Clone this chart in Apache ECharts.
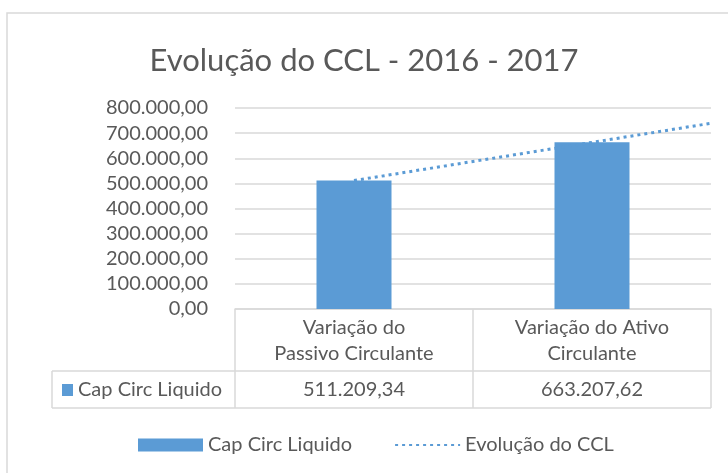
<!DOCTYPE html>
<html>
<head>
<meta charset="utf-8">
<script src="https://cdn.jsdelivr.net/npm/echarts@6/dist/echarts.min.js"></script>
<style>
html, body { margin: 0; padding: 0; background: #fff; }
#block1 { width: 728px; height: 473px; }
</style>
</head>
<body>
<div id="block1"></div>
<script>
// dados
var categorias = ['Variação do\nPassivo Circulante', 'Variação do Ativo\nCirculante'];
var capCircLiquido = [511209.34, 663207.62];
var nomeBarra = 'Cap Circ Liquido';
var nomeTendencia = 'Evolução do CCL';
var titulo = 'Evolução do CCL - 2016 - 2017';

var FONTE = 'Lato, "Open Sans", sans-serif';
var CINZA = '#595959';
var LINHA = '#D9D9D9';
var AZUL = '#5B9BD5';

function fmtBR(v) {
    var p = v.toFixed(2).split('.');
    return p[0].replace(/\B(?=(\d{3})+(?!\d))/g, '.') + ',' + p[1];
}

// linha de tendencia linear (como no excel), com previsao de 0,5 periodo
var n = capCircLiquido.length, sx = 0, sy = 0, sxy = 0, sxx = 0;
capCircLiquido.forEach(function (v, i) { sx += i; sy += v; sxy += i * v; sxx += i * i; });
var incl = (n * sxy - sx * sy) / (n * sxx - sx * sx);
var inter = (sy - incl * sx) / n;
var tendencia = [[0, inter], [n - 0.5, inter + incl * (n - 0.5)]];

// area do grafico
var gL = 235, gR = 711, gT = 108, gB = 309;
var linhaCab = 371, linhaVal = 408, colRot = 52;

var option1 = {
    animation: false,
    textStyle: { fontFamily: FONTE },
    title: {
        text: titulo, left: 'center', top: 40,
        textStyle: { color: CINZA, fontSize: 31, fontWeight: 'normal', fontFamily: FONTE }
    },
    grid: { left: gL, right: 728 - gR, top: gT, bottom: 473 - gB },
    legend: {
        left: 138, top: 435, padding: 0, itemWidth: 65, itemHeight: 13, itemGap: 42,
        textStyle: { color: CINZA, fontSize: 20, fontFamily: FONTE },
        data: [{ name: nomeBarra, icon: 'rect' }, { name: nomeTendencia, itemStyle: { opacity: 0 } }]
    },
    xAxis: [
        { type: 'category', data: categorias, axisLabel: { show: false }, axisTick: { show: false },
          axisLine: { lineStyle: { color: LINHA, width: 1.5 } } },
        { type: 'value', min: -0.5, max: n - 0.5, show: false }
    ],
    yAxis: {
        type: 'value', min: 0, max: 800000, interval: 100000,
        axisLine: { show: false }, axisTick: { show: false },
        axisLabel: { color: CINZA, fontSize: 20, margin: 27, fontFamily: FONTE, formatter: fmtBR },
        splitLine: { lineStyle: { color: LINHA, width: 1.5 } }
    },
    series: [
        { name: nomeBarra, type: 'bar', data: capCircLiquido, barWidth: 75,
          itemStyle: { color: AZUL } },
        { name: nomeTendencia, type: 'line', xAxisIndex: 1, data: tendencia,
          symbol: 'none', color: AZUL,
          lineStyle: { type: [3, 4], width: 3, color: AZUL } }
    ]
};

var myChart1 = echarts.init(document.getElementById('block1'));
myChart1.setOption(option1);

// tabela de dados
var meio = myChart1.convertToPixel({ xAxisIndex: 1 }, 0.5);
var g = [];
function linha(x1, y1, x2, y2) {
    g.push({ type: 'line', shape: { x1: x1, y1: y1, x2: x2, y2: y2 }, style: { stroke: LINHA, lineWidth: 1.5 } });
}
function texto(t, x, y, al) {
    g.push({ type: 'text', x: x, y: y, style: { text: t, align: al || 'center', verticalAlign: 'middle',
        fill: CINZA, font: '20px ' + FONTE, lineHeight: 26 } });
}
// borda do grafico
g.push({ type: 'rect', shape: { x: 7, y: 13, width: 900, height: 700 }, style: { fill: null, stroke: LINHA, lineWidth: 1.5 } });
linha(gL, gB, gL, linhaVal);
linha(meio, gB, meio, linhaVal);
linha(gR, gB, gR, linhaVal);
linha(colRot, linhaCab, gR, linhaCab);
linha(colRot, linhaVal, gR, linhaVal);
linha(colRot, linhaCab, colRot, linhaVal);
categorias.forEach(function (c, i) {
    var cx = myChart1.convertToPixel({ xAxisIndex: 1 }, i);
    texto(c, cx, (gB + linhaCab) / 2 + 1);
    texto(fmtBR(capCircLiquido[i]), cx, (linhaCab + linhaVal) / 2);
});
g.push({ type: 'rect', shape: { x: 62, y: 384, width: 11, height: 12 }, style: { fill: AZUL } });
texto(nomeBarra, 78, (linhaCab + linhaVal) / 2, 'left');
myChart1.setOption({ graphic: g });
</script>
</body>
</html>
